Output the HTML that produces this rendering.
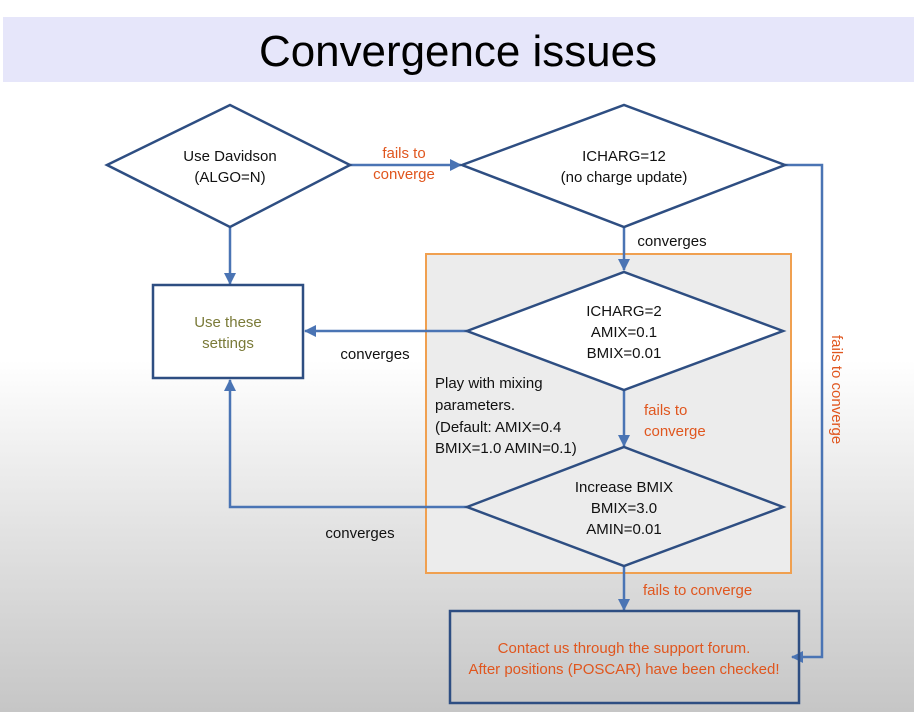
<!DOCTYPE html>
<html><head><meta charset="utf-8"><style>
html,body{margin:0;padding:0;}
body{width:914px;height:712px;overflow:hidden;background:linear-gradient(to bottom,#ffffff 0px,#ffffff 360px,#e4e4e4 520px,#c6c6c6 712px);}
svg text{font-family:"Liberation Sans",sans-serif;}
</style></head><body>
<svg width="914" height="712" viewBox="0 0 914 712" xmlns="http://www.w3.org/2000/svg">
<defs>
<marker id="a" markerWidth="12" markerHeight="12" refX="11" refY="6" orient="auto" markerUnits="userSpaceOnUse">
<path d="M0,0 L12,6 L0,12 z" fill="#4a74b4"/></marker>
</defs>
<rect x="3" y="17" width="911" height="65" fill="#e6e6fa"/>
<text x="458" y="66" font-size="44" text-anchor="middle" fill="#000" textLength="398" lengthAdjust="spacingAndGlyphs">Convergence issues</text>

<rect x="426" y="254" width="365" height="319" fill="#ececec" stroke="#f0a050" stroke-width="2"/>

<g stroke="#4a74b4" stroke-width="2.5" fill="none">
<line x1="350" y1="165" x2="461" y2="165" marker-end="url(#a)"/>
<polyline points="785,165 822,165 822,657 792,657" marker-end="url(#a)"/>
<line x1="624" y1="227" x2="624" y2="270" marker-end="url(#a)"/>
<line x1="230" y1="227" x2="230" y2="284" marker-end="url(#a)"/>
<line x1="467" y1="331" x2="305" y2="331" marker-end="url(#a)"/>
<line x1="624" y1="390" x2="624" y2="446" marker-end="url(#a)"/>
<polyline points="467,507 230,507 230,380" marker-end="url(#a)"/>
<line x1="624" y1="566" x2="624" y2="610" marker-end="url(#a)"/>
</g>

<g stroke="#2e4e82" stroke-width="2.5" fill="#fff">
<polygon points="107,165 230,105 350,165 230,227"/>
<polygon points="462,165 624,105 785,165 624,227"/>
<polygon points="467,331 624,272 783,331 624,390"/>
<polygon points="467,507 624,447 783,507 624,566" fill="#ececec"/>
<rect x="153" y="285" width="150" height="93"/>
<rect x="450" y="611" width="349" height="92" fill="none"/>
</g>

<g font-size="15" fill="#111" text-anchor="middle">
<text x="230" y="161">Use Davidson</text>
<text x="230" y="182">(ALGO=N)</text>
<text x="624" y="161">ICHARG=12</text>
<text x="624" y="182">(no charge update)</text>
<text x="624" y="316">ICHARG=2</text>
<text x="624" y="337">AMIX=0.1</text>
<text x="624" y="358">BMIX=0.01</text>
<text x="624" y="492">Increase BMIX</text>
<text x="624" y="513">BMIX=3.0</text>
<text x="624" y="534">AMIN=0.01</text>
<text x="672" y="246">converges</text>
<text x="375" y="359">converges</text>
<text x="360" y="538">converges</text>
</g>
<g font-size="15" fill="#111">
<text x="435" y="388">Play with mixing</text>
<text x="435" y="410">parameters.</text>
<text x="435" y="432">(Default: AMIX=0.4</text>
<text x="435" y="453">BMIX=1.0 AMIN=0.1)</text>
</g>
<g font-size="15" fill="#7a7a38" text-anchor="middle">
<text x="228" y="327">Use these</text>
<text x="228" y="348">settings</text>
</g>
<g font-size="15" fill="#e0561e">
<text x="404" y="158" text-anchor="middle">fails to</text>
<text x="404" y="179" text-anchor="middle">converge</text>
<text x="644" y="415">fails to</text>
<text x="644" y="436">converge</text>
<text x="643" y="595">fails to converge</text>
<text transform="translate(832,335) rotate(90)">fails to converge</text>
<text x="624" y="653" text-anchor="middle">Contact us through the support forum.</text>
<text x="624" y="674" text-anchor="middle">After positions (POSCAR) have been checked!</text>
</g>
</svg>
</body></html>
